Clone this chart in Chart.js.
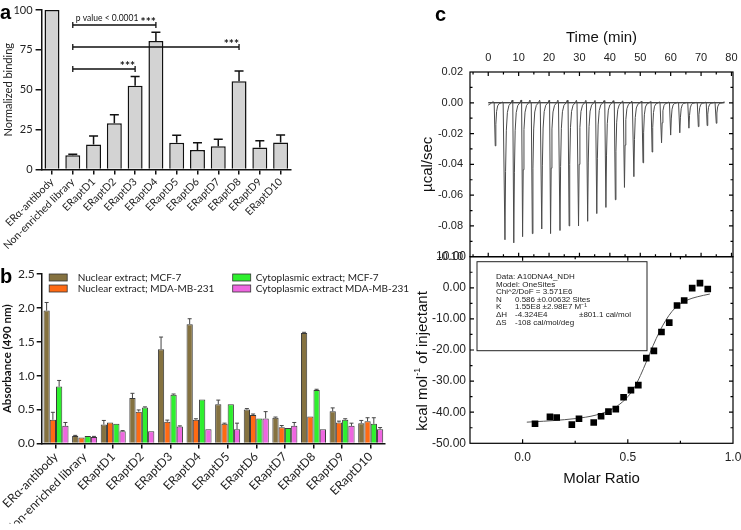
<!DOCTYPE html>
<html><head><meta charset="utf-8">
<script src="https://cdn.jsdelivr.net/npm/chart.js@4.4.1/dist/chart.umd.min.js"></script>
<style>
html,body{margin:0;padding:0;background:#fff;}
#wrap{position:relative;width:741px;height:530px;overflow:hidden;background:#fff;}
canvas{position:absolute;left:0;top:0;}
</style></head><body>
<div id="wrap">
<canvas id="ca" width="741" height="530"></canvas>
<canvas id="cb" width="741" height="530"></canvas>
<canvas id="cc1" width="741" height="530"></canvas>
<canvas id="cc2" width="741" height="530"></canvas>
</div>
<script>
// ---------- DATA ----------
const categories = ['ERα-antibody','Non-enriched library','ERaptD1','ERaptD2','ERaptD3','ERaptD4','ERaptD5','ERaptD6','ERaptD7','ERaptD8','ERaptD9','ERaptD10'];

// panel a
const bindingValues = [100, 9, 15.6, 29, 52.5, 80.6, 16.7, 12.3, 14.6, 55.4, 13.8, 16.9];
const bindingErrors = [0, 0.6, 5.4, 5.4, 5.8, 5.4, 4.8, 4.4, 4.4, 6.3, 4.2, 4.8];
const bindingTicks = [0, 25, 50, 75, 100];
const bracketFrom = [1, 1, 1];
const bracketTo = [5, 9, 4];
const bracketLevel = [90.6, 76.8, 63];
const bracketStars = ['***', '***', '***'];
const bracketNotes = ['p value < 0.0001', '', ''];

// panel b
const seriesLabels = ['Nuclear extract; MCF-7','Nuclear extract; MDA-MB-231','Cytoplasmic extract; MCF-7','Cytoplasmic extract MDA-MB-231'];
const absNucMCF7 = [1.96, 0.11, 0.28, 0.67, 1.39, 1.76, 0.58, 0.50, 0.38, 1.63, 0.475, 0.30];
const errNucMCF7 = [0.12, 0.01, 0.06, 0.07, 0.18, 0.08, 0.06, 0.015, 0.01, 0.01, 0.05, 0.04];
const absNucMDA  = [0.35, 0.09, 0.31, 0.47, 0.32, 0.35, 0.29, 0.42, 0.24, 0.40, 0.31, 0.33];
const errNucMDA  = [0.11, 0, 0, 0.025, 0.025, 0.015, 0.01, 0.015, 0.025, 0, 0.02, 0.05];
const absCytMCF7 = [0.84, 0.11, 0.29, 0.53, 0.72, 0.65, 0.58, 0.37, 0.23, 0.79, 0.35, 0.29];
const errCytMCF7 = [0.09, 0, 0, 0.01, 0.01, 0, 0, 0, 0, 0.01, 0.015, 0.09];
const absCytMDA  = [0.26, 0.095, 0.18, 0.18, 0.25, 0.21, 0.21, 0.37, 0.26, 0.21, 0.26, 0.21];
const errCytMDA  = [0.05, 0.01, 0.01, 0, 0.01, 0, 0.09, 0.10, 0.05, 0, 0.04, 0.025];
const absTicks = [0, 0.5, 1.0, 1.5, 2.0, 2.5];

// panel c (top): thermogram
const injectionTimes = [2.3, 5.5, 8.4, 11.3, 14.5, 17.6, 20.5, 23.6, 26.6, 29.7, 32.7, 35.7, 38.7, 41.8, 44.8, 47.9, 50.9, 53.9, 57.0, 60.0, 63.0, 66.0, 69.1, 72.0, 75.0];
const peakHeights = [-0.028, -0.089, -0.091, -0.087, -0.085, -0.082, -0.085, -0.083, -0.080, -0.080, -0.077, -0.072, -0.068, -0.063, -0.055, -0.048, -0.039, -0.032, -0.026, -0.021, -0.0195, -0.0165, -0.0155, -0.0148, -0.0133];
const timeTicks = [0, 10, 20, 30, 40, 50, 60, 70, 80];
const powerTicks = [-0.10, -0.08, -0.06, -0.04, -0.02, 0.00, 0.02];

// panel c (bottom): integrated heats
const molarRatio = [0.059, 0.13, 0.162, 0.234, 0.268, 0.338, 0.373, 0.408, 0.443, 0.48, 0.515, 0.55, 0.588, 0.624, 0.66, 0.697, 0.734, 0.768, 0.806, 0.843, 0.88];
const heatPerInjection = [-43.7, -41.5, -41.7, -44.0, -42.1, -43.3, -41.3, -39.8, -39.0, -35.2, -32.9, -31.3, -22.6, -20.3, -14.2, -11.2, -5.7, -4.1, -0.1, 1.5, -0.4];
const fitRatio = [0.02, 0.1, 0.2, 0.3, 0.35, 0.4, 0.45, 0.5, 0.53, 0.56, 0.59, 0.62, 0.65, 0.68, 0.71, 0.74, 0.78, 0.83, 0.89];
const fitHeat  = [-43.2, -42.9, -42.4, -41.6, -40.9, -39.8, -38.0, -35.0, -32.2, -28.2, -23.5, -18.6, -14.2, -10.5, -7.6, -5.6, -4.0, -2.9, -2.0];
const ratioTicks = [0, 0.5, 1.0];
const heatTicks = [-50, -40, -30, -20, -10, 0, 10];
const fitReport = [
  ['Data: A10DNA4_NDH'],
  ['Model: OneSites'],
  ['Chi^2/DoF = 3.571E6'],
  ['N', '0.586', '±0.00632 Sites'],
  ['K', '1.55E8 ±2.98E7 M⁻¹'],
  ['ΔH', '-4.324E4', '', '±801.1 cal/mol'],
  ['ΔS', '-108 cal/mol/deg']
];

// ---------- HELPERS ----------
const SANS = 'Lato';
const ARIAL = '"Liberation Sans", Arial, sans-serif';

function letterPlugin(txt, x, y) {
  return { id: 'letter_' + txt, afterDraw(chart) {
    const c = chart.ctx; c.save();
    c.font = 'bold 20px ' + ARIAL; c.fillStyle = '#000'; c.textBaseline = 'alphabetic';
    c.fillText(txt, x, y); c.restore();
  }};
}

const errorBarPlugin = {
  id: 'errbars',
  afterDatasetsDraw(chart, args, opts) {
    const c = chart.ctx, ys = chart.scales.y;
    chart.data.datasets.forEach((ds, di) => {
      if (!ds.errors) return;
      const meta = chart.getDatasetMeta(di);
      meta.data.forEach((bar, i) => {
        const e = ds.errors[i]; if (!e) return;
        const v = ds.data[i];
        const y0 = ys.getPixelForValue(v), y1 = ys.getPixelForValue(v + e);
        c.save(); c.strokeStyle = opts.color; c.lineWidth = opts.width;
        c.beginPath(); c.moveTo(bar.x, y0); c.lineTo(bar.x, y1);
        c.moveTo(bar.x - opts.cap, y1); c.lineTo(bar.x + opts.cap, y1); c.stroke(); c.restore();
      });
    });
  }
};

const bracketPlugin = {
  id: 'brackets',
  afterDraw(chart) {
    const c = chart.ctx, xs = chart.scales.x, ys = chart.scales.y;
    c.save(); c.strokeStyle = '#111'; c.lineWidth = 1.3; c.fillStyle = '#111';
    bracketFrom.forEach((f, i) => {
      const x1 = xs.getPixelForValue(f), x2 = xs.getPixelForValue(bracketTo[i]);
      const y = ys.getPixelForValue(bracketLevel[i]);
      c.beginPath(); c.moveTo(x1, y); c.lineTo(x2, y);
      c.moveTo(x1, y - 3); c.lineTo(x1, y + 3); c.moveTo(x2, y - 3); c.lineTo(x2, y + 3); c.stroke();
      c.font = 'bold 12px ' + SANS; c.textAlign = 'right'; c.textBaseline = 'alphabetic';
      c.fillText(bracketStars[i], x2, y + 1);
      if (bracketNotes[i]) { c.font = '8.5px ' + SANS; c.textAlign = 'left'; c.fillText(bracketNotes[i], x1 + 3, y - 4); }
    });
    c.restore();
  }
};

const legendB = {
  id: 'legendB',
  afterDraw(chart) {
    const c = chart.ctx, a = chart.chartArea;
    c.save(); c.font = '10px ' + SANS; c.textBaseline = 'middle'; c.textAlign = 'left';
    chart.data.datasets.forEach((ds, i) => {
      const col = i >= 2 ? 1 : 0, row = i % 2;
      const sx = a.left + (col ? 191 : 7.5), tx = a.left + (col ? 214 : 36);
      const sy = a.top + row * 11;
      c.fillStyle = ds.backgroundColor; c.fillRect(sx, sy, 18, 7);
      c.strokeStyle = '#333'; c.lineWidth = 0.8; c.strokeRect(sx, sy, 18, 7);
      c.fillStyle = '#222'; c.fillText(ds.label, tx, sy + 4);
    });
    c.restore();
  }
};

function frameTicks(xMinor, yMinor) {
  return { id: 'frame', afterDraw(chart) {
    const c = chart.ctx, a = chart.chartArea, xs = chart.scales.x, ys = chart.scales.y;
    c.save(); c.strokeStyle = '#000'; c.lineWidth = 1.2;
    c.strokeRect(a.left, a.top, a.right - a.left, a.bottom - a.top);
    c.beginPath();
    xs.ticks.forEach(t => { const p = xs.getPixelForValue(t.value); if (p < a.left + 1 || p > a.right - 1) return;
      c.moveTo(p, a.top); c.lineTo(p, a.top + 4); c.moveTo(p, a.bottom); c.lineTo(p, a.bottom - 4); });
    xMinor.forEach(v => { const p = xs.getPixelForValue(v); if (p < a.left + 1 || p > a.right - 1) return;
      c.moveTo(p, a.top); c.lineTo(p, a.top + 2.5); c.moveTo(p, a.bottom); c.lineTo(p, a.bottom - 2.5); });
    ys.ticks.forEach(t => { const p = ys.getPixelForValue(t.value); if (p < a.top + 1 || p > a.bottom - 1) return;
      c.moveTo(a.left, p); c.lineTo(a.left + 4, p); c.moveTo(a.right, p); c.lineTo(a.right - 4, p); });
    yMinor.forEach(v => { const p = ys.getPixelForValue(v); if (p < a.top + 1 || p > a.bottom - 1) return;
      c.moveTo(a.left, p); c.lineTo(a.left + 2.5, p); c.moveTo(a.right, p); c.lineTo(a.right - 2.5, p); });
    c.stroke(); c.restore();
  }};
}
function midpoints(arr) { const out = []; for (let i = 0; i < arr.length - 1; i++) out.push((arr[i] + arr[i + 1]) / 2); return out; }

const common = { responsive: false, animation: false, devicePixelRatio: 1,
  plugins: { legend: { display: false }, tooltip: { enabled: false } } };

// ---------- PANEL A ----------
new Chart(document.getElementById('ca'), {
  type: 'bar',
  data: { labels: categories, datasets: [{ data: bindingValues, errors: bindingErrors,
    backgroundColor: '#d3d3d3', borderColor: '#111', borderWidth: 1.5, barPercentage: 0.72, categoryPercentage: 1 }] },
  options: Object.assign({}, common, {
    layout: { padding: { left: 0, top: 10, right: 450, bottom: 260.5 } },
    plugins: Object.assign({}, common.plugins, { errbars: { color: '#111', width: 1.5, cap: 4.5 } }),
    scales: {
      x: { ticks: { autoSkip: false, minRotation: 45, maxRotation: 45, font: { family: SANS, size: 10.5 }, color: '#222', padding: 1 },
           grid: { offset: false, drawOnChartArea: false, color: '#111', lineWidth: 1.5, tickLength: 5 },
           border: { color: '#111', width: 1.5 },
           afterFit(s) { s.height = 100; s.paddingLeft = 0; s.paddingRight = 0; } },
      y: { min: 0, max: 100, afterBuildTicks(s) { s.ticks = bindingTicks.map(v => ({ value: v })); },
           ticks: { font: { family: SANS, size: 11 }, color: '#222', padding: 3 },
           grid: { drawOnChartArea: false, color: '#111', lineWidth: 1.5, tickLength: 6 },
           border: { color: '#111', width: 1.5 },
           title: { display: true, text: 'Normalized binding', font: { family: SANS, size: 11 }, color: '#222', padding: { top: 2, bottom: 0 } },
           afterFit(s) { s.width = 41.6; } }
    }
  }),
  plugins: [errorBarPlugin, bracketPlugin, letterPlugin('a', 0, 19)]
});

// ---------- PANEL B ----------
const barColors = ['#857240', '#ff6a13', '#2ef02e', '#ee66e0'];
const absSeries = [absNucMCF7, absNucMDA, absCytMCF7, absCytMDA];
const absErrors = [errNucMCF7, errNucMDA, errCytMCF7, errCytMDA];
new Chart(document.getElementById('cb'), {
  type: 'bar',
  data: { labels: categories, datasets: absSeries.map((d, i) => ({ label: seriesLabels[i], data: d, errors: absErrors[i],
    backgroundColor: barColors[i], borderColor: '#3a3a3a', borderWidth: 1, barPercentage: 1, categoryPercentage: 0.875 })) },
  options: Object.assign({}, common, {
    layout: { padding: { left: 0, top: 274, right: 356, bottom: 6.5 } },
    plugins: Object.assign({}, common.plugins, { errbars: { color: '#444', width: 1, cap: 2 } }),
    scales: {
      x: { ticks: { autoSkip: false, minRotation: 45, maxRotation: 45, font: { family: SANS, size: 12 }, color: '#222', padding: 1 },
           grid: { offset: false, drawOnChartArea: false, color: '#111', lineWidth: 1.5, tickLength: 5 },
           border: { color: '#111', width: 1.5 },
           afterFit(s) { s.height = 80; s.paddingLeft = 0; s.paddingRight = 0; } },
      y: { min: 0, max: 2.5, afterBuildTicks(s) { s.ticks = absTicks.map(v => ({ value: v })); },
           ticks: { font: { family: SANS, size: 12 }, color: '#222', padding: 2, callback: v => v.toFixed(1) },
           grid: { drawOnChartArea: false, color: '#111', lineWidth: 1.5, tickLength: 5 },
           border: { color: '#111', width: 1.5 },
           title: { display: true, text: 'Absorbance (490 nm)', font: { family: SANS, size: 11.5, weight: 'bold' }, color: '#111', padding: { top: 0, bottom: 0 } },
           afterFit(s) { s.width = 41.7; } }
    }
  }),
  plugins: [errorBarPlugin, legendB, letterPlugin('b', 0, 283)]
});

// ---------- PANEL C TOP ----------
const peakShape = [[-0.35, 0], [0, 1], [0.2, 0.5], [0.45, 0.2], [0.8, 0.07], [1.3, 0.02], [2.0, 0], [2.4, -0.02], [2.6, 0]];
const tracePoints = [{ x: 0, y: -0.0015 }, { x: 0.8, y: -0.0006 }, { x: 1.5, y: 0.0008 }];
injectionTimes.forEach((t, i) => peakShape.forEach(([dt, f]) => tracePoints.push({ x: t + dt, y: peakHeights[i] * f })));
tracePoints.push({ x: 77.6, y: 0.0008 });
new Chart(document.getElementById('cc1'), {
  type: 'scatter',
  data: { datasets: [
    { data: tracePoints, showLine: true, pointRadius: 0, borderColor: '#4a4a4a', borderWidth: 1 },
    { data: [{ x: 0, y: 0 }, { x: 77.6, y: 0 }], showLine: true, pointRadius: 0, borderColor: '#000', borderWidth: 1 }
  ] },
  options: Object.assign({}, common, {
    layout: { padding: { left: 405, top: 20, right: 8, bottom: 273.3 } },
    scales: {
      x: { type: 'linear', position: 'top', min: -6, max: 80.5,
           afterBuildTicks(s) { s.ticks = timeTicks.map(v => ({ value: v })); },
           ticks: { font: { family: ARIAL, size: 11 }, color: '#222', padding: 7, callback: v => String(v) },
           grid: { display: false, drawTicks: false }, border: { display: false },
           title: { display: true, text: 'Time (min)', font: { family: ARIAL, size: 15 }, color: '#111', padding: { top: 9, bottom: 0 } },
           afterFit(s) { s.height = 52; s.paddingLeft = 0; s.paddingRight = 0; } },
      y: { min: -0.1, max: 0.02,
           afterBuildTicks(s) { s.ticks = powerTicks.map(v => ({ value: v })); },
           ticks: { font: { family: ARIAL, size: 11 }, color: '#222', padding: 7, callback: v => v.toFixed(2) },
           grid: { display: false, drawTicks: false }, border: { display: false },
           title: { display: true, text: 'µcal/sec', font: { family: ARIAL, size: 15 }, color: '#111', padding: { top: 14, bottom: 0 } },
           afterFit(s) { s.width = 65; } }
    }
  }),
  plugins: [frameTicks([-5].concat(midpoints(timeTicks)), midpoints(powerTicks)), letterPlugin('c', 435, 21)]
});

// ---------- PANEL C BOTTOM ----------
const reportPlugin = {
  id: 'report',
  afterDraw(chart) {
    const c = chart.ctx, a = chart.chartArea;
    const bx = a.left + 7, by = a.top + 5, bw = 170, bh = 89;
    c.save(); c.fillStyle = '#fff'; c.fillRect(bx, by, bw, bh);
    c.strokeStyle = '#222'; c.lineWidth = 1; c.strokeRect(bx, by, bw, bh);
    c.font = '8px ' + ARIAL; c.fillStyle = '#222'; c.textBaseline = 'middle'; c.textAlign = 'left';
    const cols = [bx + 19, bx + 38, bx + 60, bx + 102];
    fitReport.forEach((row, r) => {
      const y = by + 15 + r * 7.6;
      if (row.length === 1) { c.fillText(row[0], cols[0], y); return; }
      row.forEach((s, k) => { if (s) c.fillText(s, cols[k], y); });
    });
    // y-axis title with superscript
    const cx = 423, cy = 361;
    c.translate(cx, cy); c.rotate(-Math.PI / 2);
    c.fillStyle = '#111'; c.textBaseline = 'middle';
    const big = '15px ' + ARIAL, small = '9px ' + ARIAL;
    c.font = big; const w1 = c.measureText('kcal mol').width; const w3 = c.measureText(' of injectant').width;
    c.font = small; const w2 = c.measureText('-1').width;
    let x = -(w1 + w2 + w3) / 2;
    c.font = big; c.fillText('kcal mol', x, 0); x += w1;
    c.font = small; c.fillText('-1', x, -5); x += w2;
    c.font = big; c.fillText(' of injectant', x, 0);
    c.restore();
  }
};
new Chart(document.getElementById('cc2'), {
  type: 'scatter',
  data: { datasets: [
    { data: molarRatio.map((v, i) => ({ x: v, y: heatPerInjection[i] })), pointStyle: 'rect', pointRadius: 4.7,
      backgroundColor: '#000', borderColor: '#000', borderWidth: 0 },
    { data: fitRatio.map((v, i) => ({ x: v, y: fitHeat[i] })), showLine: true, pointRadius: 0,
      borderColor: '#555', borderWidth: 1, cubicInterpolationMode: 'monotone' }
  ] },
  options: Object.assign({}, common, {
    layout: { padding: { left: 405, top: 256.7, right: 8, bottom: 30 } },
    scales: {
      x: { type: 'linear', min: -0.25, max: 1.0,
           afterBuildTicks(s) { s.ticks = ratioTicks.map(v => ({ value: v })); },
           ticks: { font: { family: ARIAL, size: 12 }, color: '#222', padding: 7, callback: v => v.toFixed(1) },
           grid: { display: false, drawTicks: false }, border: { display: false },
           title: { display: true, text: 'Molar Ratio', font: { family: ARIAL, size: 15 }, color: '#111', padding: { top: 0, bottom: 12 } },
           afterFit(s) { s.height = 56.7; s.paddingLeft = 0; s.paddingRight = 0; } },
      y: { min: -50, max: 10,
           afterBuildTicks(s) { s.ticks = heatTicks.map(v => ({ value: v })); },
           ticks: { font: { family: ARIAL, size: 12 }, color: '#222', padding: 4, callback: v => v.toFixed(2) },
           grid: { display: false, drawTicks: false }, border: { display: false },
           afterFit(s) { s.width = 65; } }
    }
  }),
  plugins: [frameTicks([-0.25].concat(midpoints(ratioTicks)), midpoints(heatTicks)), reportPlugin]
});
</script>
</body></html>
